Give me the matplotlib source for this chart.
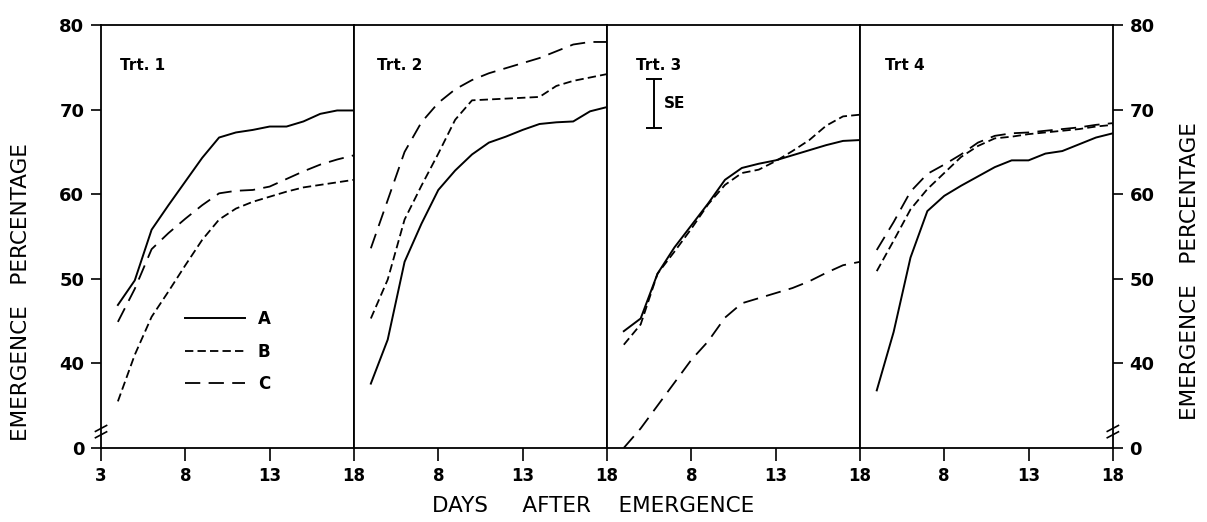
import matplotlib
matplotlib.use("Agg")
import matplotlib.pyplot as plt
from matplotlib import font_manager

# ---------------------------------------------------------------------------
# data, emergence percentage by day after emergence
# ---------------------------------------------------------------------------
days = [4, 5, 6, 7, 8, 9, 10, 11, 12, 13, 14, 15, 16, 17, 18]

trt1_a = [46.9, 49.8, 55.8, 58.7, 61.5, 64.3, 66.7, 67.3, 67.6, 68.0, 68.0, 68.6, 69.5, 69.9, 69.9]
trt1_b = [35.5, 41.0, 45.5, 48.5, 51.6, 54.6, 57.0, 58.3, 59.1, 59.7, 60.3, 60.8, 61.1, 61.4, 61.7]
trt1_c = [44.9, 48.8, 53.5, 55.4, 57.1, 58.7, 60.1, 60.4, 60.5, 60.9, 61.8, 62.7, 63.5, 64.1, 64.6]

trt2_a = [37.6, 42.8, 52.0, 56.5, 60.5, 62.8, 64.7, 66.1, 66.8, 67.6, 68.3, 68.5, 68.6, 69.8, 70.3]
trt2_b = [45.3, 49.9, 57.0, 61.0, 64.8, 68.8, 71.1, 71.2, 71.3, 71.4, 71.5, 72.8, 73.4, 73.8, 74.2]
trt2_c = [53.6, 59.3, 65.0, 68.5, 70.8, 72.4, 73.5, 74.3, 74.9, 75.5, 76.1, 76.9, 77.7, 78.0, 78.0]

trt3_a = [43.8, 45.3, 50.6, 53.7, 56.3, 58.9, 61.7, 63.1, 63.6, 64.0, 64.6, 65.2, 65.8, 66.3, 66.4]
trt3_b = [42.2, 44.6, 50.6, 53.2, 55.9, 58.8, 61.1, 62.5, 62.9, 63.9, 65.1, 66.4, 68.1, 69.2, 69.4]
trt3_c = [30.0, 32.3, 35.0, 37.7, 40.4, 42.6, 45.4, 47.1, 47.7, 48.3, 48.9, 49.7, 50.7, 51.6, 52.0]

trt4_a = [36.8, 43.7, 52.5, 58.0, 59.8, 61.0, 62.1, 63.2, 64.0, 64.0, 64.8, 65.1, 65.9, 66.7, 67.2]
trt4_b = [50.9, 54.5, 58.2, 60.6, 62.5, 64.4, 65.7, 66.6, 66.8, 67.1, 67.3, 67.5, 67.7, 68.0, 68.2]
trt4_c = [53.4, 56.7, 60.3, 62.4, 63.5, 64.7, 66.1, 66.9, 67.2, 67.3, 67.5, 67.7, 67.9, 68.2, 68.4]

panel_titles = ["Trt. 1", "Trt. 2", "Trt. 3", "Trt 4"]
series_names = ["A", "B", "C"]

y_ticks = [30, 40, 50, 60, 70, 80]
y_tick_labels = ["0", "40", "50", "60", "70", "80"]   # broken axis: bottom is labelled 0
first_x_ticks = [3, 8, 13, 18]
other_x_ticks = [8, 13, 18]

se_length = 5.8

panels = [
    (trt1_a, trt1_b, trt1_c),
    (trt2_a, trt2_b, trt2_c),
    (trt3_a, trt3_b, trt3_c),
    (trt4_a, trt4_b, trt4_c),
]

# ---------------------------------------------------------------------------
# styling
# ---------------------------------------------------------------------------
plt.rcParams["lines.scale_dashes"] = False

font_names = {f.name for f in font_manager.fontManager.ttflist}
if "Liberation Sans Narrow" in font_names:
    label_font, label_size, xlabel_size = "Liberation Sans Narrow", 19, 18
else:
    label_font, label_size, xlabel_size = "DejaVu Sans", 15.5, 15.5

line_styles = ["-", (0, (6, 3)), (0, (11, 6))]
line_widths = [1.4, 1.3, 1.3]
title_x = [0.075, 0.09, 0.115, 0.10]

figure, axes = plt.subplots(1, 4, figsize=(12.07, 5.22), dpi=100)
figure.subplots_adjust(left=0.0837, right=0.922, top=0.952, bottom=0.142, wspace=0)

for i, ax in enumerate(axes):
    for values, name, ls, lw in zip(panels[i], series_names, line_styles, line_widths):
        ax.plot(days, values, color="black", linestyle=ls, linewidth=lw, label=name)

    ax.set_xlim(3, 18)
    ax.set_ylim(30, 80)
    for spine in ax.spines.values():
        spine.set_linewidth(1.3)

    ax.set_yticks(y_ticks, y_tick_labels)
    if i == 0:
        ax.set_xticks(first_x_ticks, [str(t) for t in first_x_ticks])
        ax.tick_params(axis="y", left=True, labelleft=True, right=False, labelright=False)
    elif i == 3:
        ax.set_xticks(other_x_ticks, [str(t) for t in other_x_ticks])
        ax.tick_params(axis="y", left=False, labelleft=False, right=True, labelright=True)
    else:
        ax.set_xticks(other_x_ticks, [str(t) for t in other_x_ticks])
        ax.tick_params(axis="y", left=False, labelleft=False)

    ax.tick_params(axis="x", direction="out", length=9, width=1.2, pad=5, labelsize=12)
    ax.tick_params(axis="y", direction="out", length=7, width=1.2, pad=5, labelsize=13)
    for lab in ax.get_xticklabels() + ax.get_yticklabels():
        lab.set_fontweight("bold")

    ax.text(title_x[i], 0.905, panel_titles[i], transform=ax.transAxes,
            fontsize=11, fontweight="bold", ha="left", va="center")

# axis break marks on the outer spines
for ax, xpos in ((axes[0], 0.0), (axes[3], 1.0)):
    for yb in (0.031, 0.046):
        ax.plot([xpos - 0.022, xpos + 0.022], [yb - 0.007, yb + 0.007],
                transform=ax.transAxes, color="black", linewidth=1.2, clip_on=False)

# legend in the first panel
legend = axes[0].legend(loc="upper left", bbox_to_anchor=(0.33, 0.326), frameon=False,
                        borderpad=0, borderaxespad=0, handlelength=3.6, handletextpad=0.8,
                        labelspacing=0.87, prop={"size": 12, "weight": "bold"})

# standard error bar in panel 3
axes[2].errorbar([5.8], [70.7], yerr=[se_length / 2], fmt="none", ecolor="black",
                 elinewidth=1.4, capsize=6, capthick=1.4)
axes[2].text(6.35, 70.7, "SE", fontsize=11, fontweight="bold", ha="left", va="center")

figure.text(0.017, 0.44, "EMERGENCE   PERCENTAGE", rotation=90, ha="center", va="center",
            family=label_font, fontsize=label_size)
figure.text(0.986, 0.48, "EMERGENCE   PERCENTAGE", rotation=90, ha="center", va="center",
            family=label_font, fontsize=label_size)
figure.text(0.491, 0.03, "DAYS     AFTER    EMERGENCE", ha="center", va="center",
            family=label_font, fontsize=xlabel_size)

figure.savefig("out.png", dpi=100, facecolor="white")
plt.close(figure)
